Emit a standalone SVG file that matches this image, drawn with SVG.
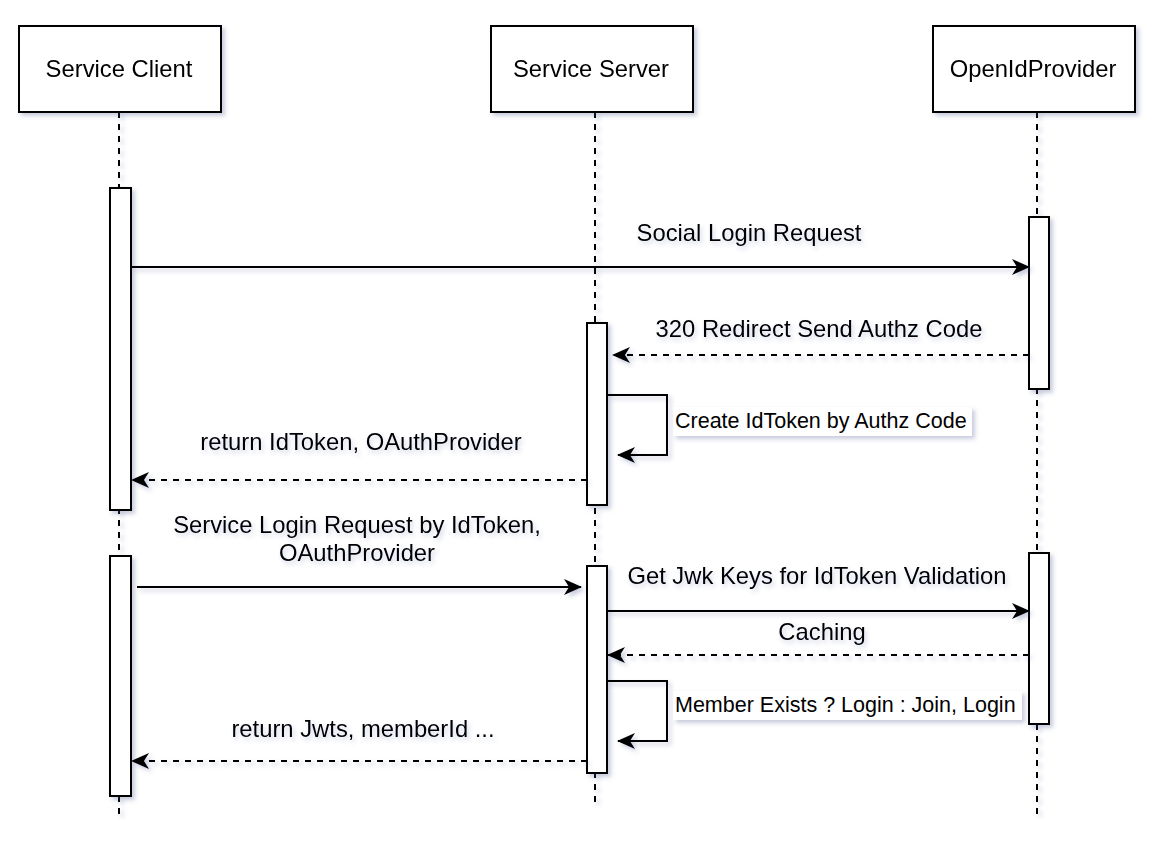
<svg xmlns="http://www.w3.org/2000/svg" width="1154" height="850" viewBox="0 0 1154 850">
<style>
.box{fill:#fff;stroke:#000;stroke-width:2}
.life{fill:none;stroke:#000;stroke-width:2;stroke-dasharray:6 6}
.msg{fill:none;stroke:#000;stroke-width:2}
.ret{fill:none;stroke:#000;stroke-width:2;stroke-dasharray:6 6}
.t{font-family:"Liberation Sans",Arial,Helvetica,sans-serif;font-size:23.8px;fill:#000}
.ts{font-family:"Liberation Sans",Arial,Helvetica,sans-serif;font-size:21.5px;fill:#000}
.mid{text-anchor:middle}
</style>
<defs>
<filter id="sh" x="-20%" y="-20%" width="150%" height="150%">
<feDropShadow dx="3" dy="3" stdDeviation="2.2" flood-color="#4a5590" flood-opacity="0.3"/>
</filter>
<filter id="tsh" x="-10%" y="-30%" width="120%" height="180%">
<feDropShadow dx="2" dy="3" stdDeviation="2" flood-color="#4a5590" flood-opacity="0.25"/>
</filter>
<marker id="ah" viewBox="0 0 18 16" refX="17" refY="8" markerWidth="18" markerHeight="16" markerUnits="userSpaceOnUse" orient="auto">
<path d="M0,0 L18,8 L0,16 L5,8 Z" fill="#000"/>
</marker>
</defs>
<rect width="1154" height="850" fill="#fff"/>

<g id="lifelines" filter="url(#sh)">
<line class="life" x1="119" y1="112" x2="119" y2="818"/>
<line class="life" x1="595" y1="112" x2="595" y2="808"/>
<line class="life" x1="1037" y1="112" x2="1037" y2="817"/>
</g>

<g id="node-client" filter="url(#sh)">
<rect class="box" x="19" y="26" width="202" height="86"/>
<text class="t mid" x="119" y="77">Service Client</text>
</g>
<g id="node-server" filter="url(#sh)">
<rect class="box" x="491" y="26" width="202" height="86"/>
<text class="t mid" x="591" y="77">Service Server</text>
</g>
<g id="node-openid" filter="url(#sh)">
<rect class="box" x="933" y="26" width="202" height="86"/>
<text class="t mid" x="1033" y="77">OpenIdProvider</text>
</g>

<g id="activations" filter="url(#sh)">
<rect class="box" x="110" y="188" width="21" height="322"/>
<rect class="box" x="110" y="556" width="21" height="240"/>
<rect class="box" x="587" y="323" width="20" height="182"/>
<rect class="box" x="587" y="566" width="20" height="207"/>
<rect class="box" x="1029" y="217" width="20" height="172"/>
<rect class="box" x="1029" y="553" width="20" height="171"/>
</g>

<g id="connectors" filter="url(#sh)">
<line class="msg" x1="131" y1="267" x2="1029" y2="267" marker-end="url(#ah)"/>
<line class="ret" x1="1029" y1="355" x2="613" y2="355" marker-end="url(#ah)"/>
<polyline class="msg" points="607,395 667,395 667,455 618,455" marker-end="url(#ah)"/>
<line class="ret" x1="587" y1="480" x2="132" y2="480" marker-end="url(#ah)"/>
<line class="msg" x1="137" y1="587" x2="581" y2="587" marker-end="url(#ah)"/>
<line class="msg" x1="607" y1="611" x2="1029" y2="611" marker-end="url(#ah)"/>
<line class="ret" x1="1029" y1="655" x2="608" y2="655" marker-end="url(#ah)"/>
<polyline class="msg" points="607,681 667,681 667,741 618,741" marker-end="url(#ah)"/>
<line class="ret" x1="587" y1="761" x2="132" y2="761" marker-end="url(#ah)"/>
</g>

<g id="labels">
<g filter="url(#tsh)">
<text class="t mid" x="749" y="241">Social Login Request</text>
<text class="t mid" x="819" y="337">320 Redirect Send Authz Code</text>
<text class="t mid" x="361" y="450">return IdToken, OAuthProvider</text>
<text class="t mid" x="357" y="533">Service Login Request by IdToken,</text>
<text class="t mid" x="357" y="561">OAuthProvider</text>
<text class="t mid" x="817" y="584">Get Jwk Keys for IdToken Validation</text>
<text class="t mid" x="822" y="640">Caching</text>
<text class="t mid" x="363" y="737">return Jwts, memberId ...</text>
</g>
<g filter="url(#sh)">
<rect x="673" y="407" width="299" height="29" fill="#fff"/>
<rect x="673" y="691" width="349" height="29" fill="#fff"/>
</g>
<text class="ts" x="675" y="428">Create IdToken by Authz Code</text>
<text class="ts" x="675" y="712">Member Exists ? Login : Join, Login</text>
</g>
</svg>
